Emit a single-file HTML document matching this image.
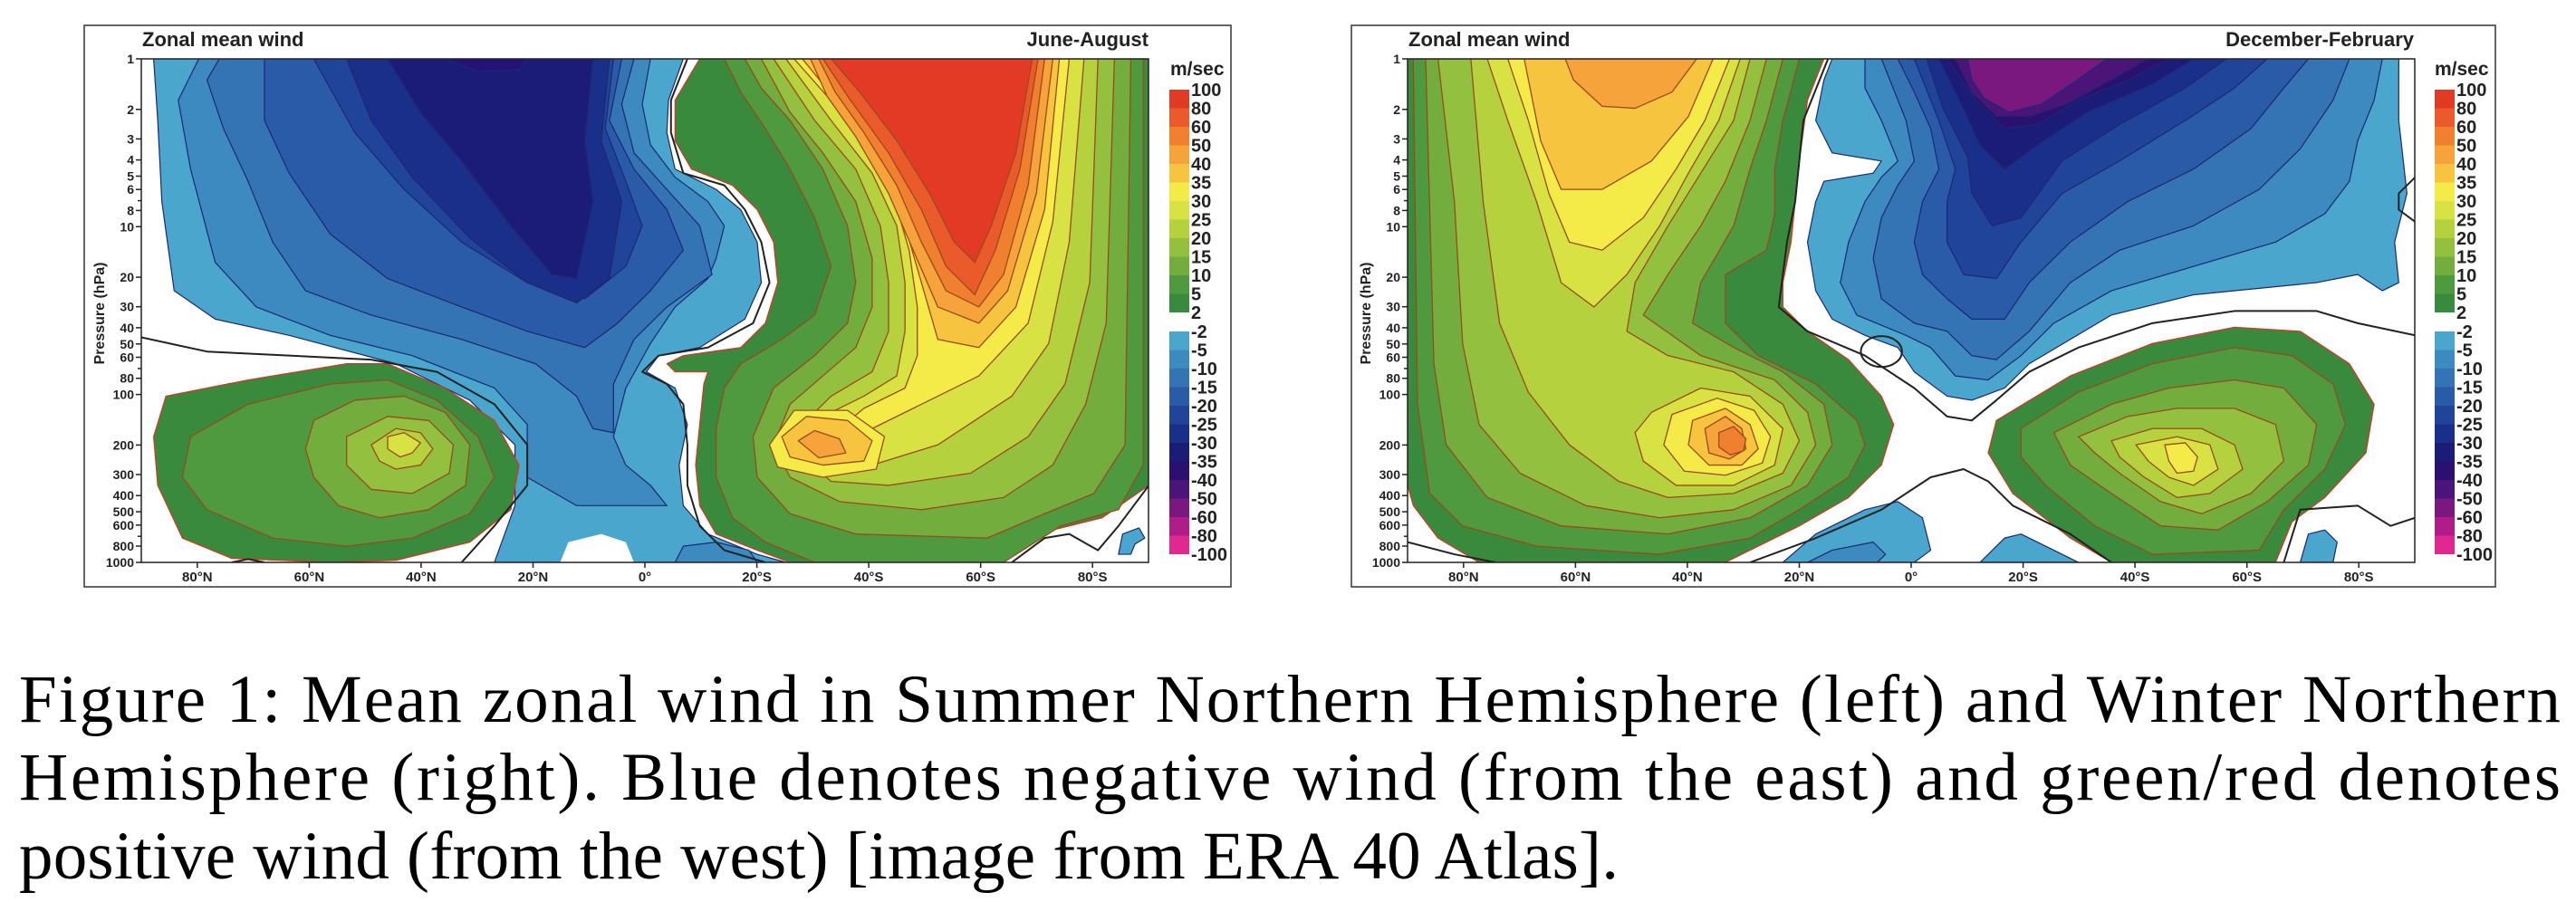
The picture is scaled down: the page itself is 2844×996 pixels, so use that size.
<!DOCTYPE html>
<html><head><meta charset="utf-8"><style>
html,body{margin:0;padding:0;background:#fff;width:2844px;height:996px;overflow:hidden}
svg{display:block}
.p polygon,.p polyline,.p ellipse{vector-effect:non-scaling-stroke;stroke-linejoin:round}
.pos{stroke:#9a4a1c;stroke-width:1.3}
.neg{stroke:#1c2870;stroke-width:1.2}
.z{fill:none;stroke:#222;stroke-width:2}
.t{font-family:"Liberation Sans",sans-serif;font-weight:bold;fill:#222}
.cap{font-family:"Liberation Serif",serif;font-size:75px;fill:#000}
</style></head><body>
<svg width="2844" height="996" viewBox="0 0 2844 996" xmlns="http://www.w3.org/2000/svg">
<defs>
<clipPath id="cl"><rect x="170" y="148" width="1227" height="1242"/></clipPath>
<clipPath id="cr"><rect x="143" y="148" width="1227" height="1242"/></clipPath>
</defs>

<rect x="93" y="28" width="1266" height="620" fill="#fff" stroke="#333" stroke-width="1.5"/>
<rect x="1492" y="28" width="1263" height="620" fill="#fff" stroke="#333" stroke-width="1.5"/>

<!-- LEFT PANEL (JJA) -->
<g class="p" transform="matrix(0.9066 0 0 0.4477 1.9 -1.3)" clip-path="url(#cl)">
<polygon class="neg" fill="#4aa6cc" points="185,148 830,148 812,250 810,330 820,420 870,470 900,520 920,600 925,700 905,790 850,860 800,880 785,920 820,960 835,1050 825,1150 830,1250 860,1320 920,1370 955,1390 600,1390 625,1250 625,1100 570,990 480,900 350,830 260,790 210,720 195,500 190,300"/>
<polygon fill="#fff" stroke="none" points="680,1390 690,1340 730,1320 760,1340 770,1390"/>
<polygon class="neg" fill="#3d8ac0" points="240,148 790,148 780,260 790,360 820,440 860,500 880,560 870,640 860,690 820,760 790,850 760,960 745,1080 760,1150 790,1200 810,1250 700,1250 640,1180 640,1050 600,960 500,880 400,830 310,760 260,650 230,420 215,250"/>
<polygon class="neg" fill="#3d8ac0" points="820,1390 830,1350 870,1340 910,1360 920,1390"/>
<polygon class="neg" fill="#3473b4" points="265,148 770,148 755,260 770,380 810,470 850,560 865,680 810,760 770,840 745,950 745,1070 720,1060 700,980 650,900 560,840 450,780 370,720 330,600 300,450 270,320 250,200"/>
<polygon class="neg" fill="#2a5ba8" points="320,148 755,148 740,300 770,420 810,520 830,620 790,720 750,800 710,860 640,820 560,760 470,690 400,580 350,430 320,300"/>
<polygon class="neg" fill="#20449a" points="380,148 745,148 735,320 760,450 780,560 760,660 710,740 640,700 560,600 490,470 430,330"/>
<polygon class="neg" fill="#1a2f8a" points="420,148 740,148 730,350 755,500 740,690 700,750 640,700 570,590 500,440 450,300"/>
<polygon class="neg" fill="#1a1c78" points="470,148 720,148 710,350 720,500 700,690 670,680 620,560 560,400 510,280"/>
<polygon class="neg" fill="#24127a" points="540,148 640,148 630,175 580,180"/>
<polygon class="neg" fill="#4aa6cc" points="1360,1370 1365,1320 1385,1305 1392,1330 1380,1345 1375,1370"/>
<!-- positive right -->
<polygon stroke="#e03020" stroke-width="1.2" fill="#3a8a3e" points="850,148 1397,148 1397,1200 1340,1280 1260,1320 1220,1390 960,1390 920,1360 870,1320 850,1250 845,1150 850,1050 855,950 860,920 820,920 810,900 830,880 900,860 930,800 945,700 940,600 920,520 890,460 840,420 820,350 820,250"/>
<polygon class="pos" fill="#4f9a3e" points="880,148 1390,148 1390,1150 1360,1260 1290,1300 1220,1390 990,1390 930,1340 890,1280 870,1180 870,1060 880,960 900,900 950,840 990,780 1010,660 990,540 960,420 930,320 900,230"/>
<polygon class="pos" fill="#72ad3e" points="905,148 1375,148 1368,1100 1330,1220 1270,1270 1200,1330 1040,1320 960,1270 920,1180 915,1080 940,960 990,880 1030,800 1040,700 1030,560 1000,420 960,300 925,220"/>
<polygon class="pos" fill="#93c03e" points="925,148 1355,148 1345,800 1320,1000 1280,1150 1220,1230 1120,1260 1020,1240 960,1180 940,1100 960,1000 1000,930 1040,860 1060,760 1060,640 1040,500 1000,380 960,280"/>
<polygon class="pos" fill="#b5d13e" points="940,148 1335,148 1325,700 1295,950 1250,1080 1180,1170 1080,1200 1010,1190 975,1130 975,1050 1010,980 1060,920 1080,820 1080,700 1070,560 1040,420 990,300"/>
<polygon class="pos" fill="#d8e243" points="955,148 1318,148 1300,600 1275,850 1230,980 1140,1100 1060,1150 1010,1160 990,1100 1000,1030 1050,980 1090,930 1100,820 1100,700 1090,560 1060,430 1010,300"/>
<polygon class="pos" fill="#f4ea48" points="965,148 1300,148 1280,550 1250,800 1190,930 1110,1010 1060,1060 1020,1060 1050,1010 1100,960 1115,880 1115,760 1105,620 1085,480 1040,320"/>
<polygon class="pos" fill="#f4ea48" points="935,1100 965,1015 1030,1015 1075,1080 1065,1160 1000,1180 945,1155"/>
<polygon class="pos" fill="#f7c440" points="975,148 1288,148 1270,520 1235,760 1190,860 1140,840 1120,700 1100,560 1070,420 1020,260"/>
<polygon class="pos" fill="#f7c440" points="950,1080 980,1030 1030,1040 1060,1090 1050,1140 1000,1150 960,1130"/>
<polygon class="pos" fill="#f5a33a" points="985,148 1280,148 1260,480 1225,720 1190,800 1140,760 1110,620 1080,480 1040,340 1005,240"/>
<polygon class="pos" fill="#f5a33a" points="970,1090 990,1065 1020,1085 1028,1120 995,1132"/>
<polygon class="pos" fill="#f08030" points="995,148 1270,148 1250,460 1220,680 1190,760 1150,720 1120,600 1090,460 1050,330 1015,230"/>
<polygon class="pos" fill="#ea5a2a" points="1000,148 1262,148 1240,420 1210,620 1185,730 1150,660 1120,520 1080,380 1030,240"/>
<polygon class="pos" fill="#e33a25" points="1010,148 1255,148 1235,380 1205,560 1185,650 1160,600 1130,480 1090,350 1045,230"/>
<!-- left blob -->
<polygon stroke="#e03020" stroke-width="1.2" fill="#3a8a3e" points="200,980 300,940 420,900 470,900 540,960 600,1040 630,1150 620,1260 570,1340 480,1385 400,1390 280,1380 220,1330 190,1200 185,1080"/>
<polygon class="pos" fill="#4f9a3e" points="230,1080 300,1000 400,950 470,940 530,990 580,1080 600,1180 570,1270 500,1330 420,1350 330,1330 250,1260 220,1180"/>
<polygon class="pos" fill="#72ad3e" points="380,1040 430,990 490,980 540,1020 570,1100 565,1200 520,1260 460,1280 410,1250 380,1180 370,1110"/>
<polygon class="pos" fill="#93c03e" points="420,1080 470,1030 520,1040 550,1100 545,1170 500,1220 450,1210 420,1150"/>
<polygon class="pos" fill="#b5d13e" points="450,1100 480,1060 510,1070 525,1110 510,1150 480,1160 460,1140"/>
<polygon class="pos" fill="#d8e243" points="470,1080 490,1070 510,1095 500,1120 485,1130 470,1110"/>
<polyline class="z" points="170,835 250,870 350,880 450,890 530,920 600,1000 640,1100 640,1200 600,1300 560,1390"/>
<polyline class="z" points="835,148 815,250 815,330 830,430 880,460 905,520 925,600 935,700 915,800 860,860 800,880 780,920 810,950 830,1000 835,1100 835,1200 850,1300 880,1360 930,1390"/>
<polyline class="z" points="1230,1390 1270,1330 1300,1320 1335,1360 1360,1300 1397,1200"/>
<polyline class="z" points="280,1390 300,1382 320,1390"/>
</g>

<!-- RIGHT PANEL (DJF) -->
<g class="p" transform="matrix(0.9066 0 0 0.4477 1424.4 -1.3)" clip-path="url(#cr)">
<polygon stroke="#e03020" stroke-width="1.2" fill="#3a8a3e" points="143,148 650,148 630,250 620,400 615,500 610,600 600,700 600,760 630,820 680,890 720,980 735,1050 720,1150 680,1230 620,1300 560,1360 530,1390 230,1390 180,1330 150,1250 143,1200"/>
<polygon class="pos" fill="#4f9a3e" points="150,148 620,148 600,300 590,420 590,530 580,620 530,680 530,800 570,880 640,950 690,1040 700,1100 680,1180 620,1260 560,1330 450,1370 300,1350 210,1300 170,1220 155,1000"/>
<polygon class="pos" fill="#72ad3e" points="165,148 600,148 580,300 560,420 540,560 500,700 490,800 540,860 600,920 650,1000 660,1100 630,1200 560,1280 460,1320 330,1300 240,1230 190,1100 175,900"/>
<polygon class="pos" fill="#93c03e" points="180,148 580,148 560,300 530,450 500,560 460,680 430,780 500,880 590,940 630,1020 640,1100 610,1200 540,1260 450,1280 360,1250 280,1170 230,1050 210,850 200,500"/>
<polygon class="pos" fill="#b5d13e" points="220,148 560,148 540,300 500,430 460,560 420,700 410,820 460,880 540,920 600,1000 620,1090 600,1170 540,1220 460,1230 400,1190 340,1100 290,970 255,800 235,500"/>
<polygon class="pos" fill="#d8e243" points="240,148 548,148 522,300 485,430 450,560 410,680 370,760 330,700 300,500 265,300"/>
<polygon class="pos" fill="#d8e243" points="440,1020 500,960 560,980 600,1060 590,1150 540,1200 470,1200 430,1140 420,1070"/>
<polygon class="pos" fill="#f4ea48" points="265,148 535,148 505,300 470,420 430,540 380,620 340,600 315,480 290,300"/>
<polygon class="pos" fill="#f4ea48" points="465,1025 520,985 565,1015 585,1080 575,1145 530,1175 480,1165 455,1100"/>
<polygon class="pos" fill="#f7c440" points="285,148 515,148 485,290 440,400 380,470 330,470 305,350"/>
<polygon class="pos" fill="#f7c440" points="490,1040 530,1010 560,1050 570,1110 550,1150 510,1150 485,1100"/>
<polygon class="pos" fill="#f5a33a" points="335,148 495,148 465,230 420,270 380,265 345,200"/>
<polygon class="pos" fill="#f5a33a" points="505,1060 530,1030 550,1060 555,1110 535,1135 510,1120"/>
<polygon class="pos" fill="#f08030" points="522,1070 540,1055 555,1085 552,1115 536,1125 522,1105"/>
<polygon stroke="#e03020" stroke-width="1.2" fill="#3a8a3e" points="860,1040 950,930 1050,850 1150,810 1230,820 1290,900 1320,1000 1310,1120 1260,1230 1220,1290 1200,1390 1000,1390 950,1330 880,1220 850,1120"/>
<polygon class="pos" fill="#4f9a3e" points="890,1060 960,970 1050,900 1150,860 1220,880 1270,950 1285,1050 1260,1160 1210,1260 1180,1360 1050,1370 980,1300 920,1200 890,1130"/>
<polygon class="pos" fill="#72ad3e" points="930,1070 1000,1000 1070,960 1150,940 1210,960 1250,1050 1240,1150 1190,1240 1130,1310 1060,1300 1000,1220 950,1150"/>
<polygon class="pos" fill="#93c03e" points="960,1080 1020,1030 1080,1010 1150,1010 1200,1050 1210,1140 1170,1220 1110,1270 1060,1240 1010,1170 980,1120"/>
<polygon class="pos" fill="#b5d13e" points="1000,1090 1050,1060 1110,1060 1150,1100 1160,1160 1120,1220 1080,1230 1040,1180 1010,1130"/>
<polygon class="pos" fill="#d8e243" points="1030,1100 1080,1080 1120,1100 1130,1160 1100,1200 1070,1180 1045,1140"/>
<polygon class="pos" fill="#f4ea48" points="1065,1100 1090,1095 1105,1130 1100,1165 1080,1170 1070,1140"/>
<polygon class="neg" fill="#4aa6cc" points="660,148 1350,148 1350,300 1360,480 1345,600 1350,700 1330,720 1300,680 1250,700 1100,730 1000,780 950,840 900,900 870,960 830,990 800,980 760,920 740,860 700,830 660,790 640,720 630,600 640,500 650,450 710,430 720,400 660,380 640,300 650,200"/>
<polygon class="neg" fill="#3d8ac0" points="700,148 1330,148 1320,250 1300,350 1290,450 1260,530 1200,600 1100,660 1000,720 930,800 890,880 850,940 810,930 780,860 750,830 690,780 670,700 680,600 700,500 720,440 740,400 720,300 700,220"/>
<polygon class="neg" fill="#3473b4" points="720,148 1290,148 1270,250 1230,370 1180,470 1100,560 1010,620 950,700 900,820 860,890 830,880 800,820 760,800 720,740 710,640 720,540 740,460 760,400 750,300"/>
<polygon class="neg" fill="#2a5ba8" points="740,148 1240,148 1210,220 1170,320 1100,420 1020,500 950,600 900,700 870,790 830,790 800,740 770,680 760,600 770,500 790,420 780,320 760,230"/>
<polygon class="neg" fill="#20449a" points="760,148 1190,148 1150,220 1090,300 1010,400 940,480 890,600 860,690 820,680 800,600 800,500 810,420 790,300"/>
<polygon class="neg" fill="#1a2f8a" points="775,148 1140,148 1090,220 1010,310 940,400 890,540 855,560 830,480 825,390 795,270"/>
<polygon class="neg" fill="#1a1c78" points="790,148 1100,148 1050,210 970,280 910,360 870,420 840,360 815,250"/>
<polygon class="neg" fill="#2a1070" points="800,148 1070,148 1020,200 960,250 910,310 870,320 835,250"/>
<polygon class="neg" fill="#4a1478" points="810,148 1045,148 1000,200 945,260 900,290 860,290 830,230"/>
<polygon class="neg" fill="#7a1880" points="825,148 995,148 955,205 915,260 875,280 845,245 830,200"/>
<polygon class="neg" fill="#4aa6cc" points="600,1390 640,1320 700,1260 740,1240 770,1280 780,1360 760,1390"/>
<polygon class="neg" fill="#3d8ac0" points="630,1390 660,1360 710,1340 725,1370 715,1390"/>
<polygon class="neg" fill="#4aa6cc" points="840,1390 870,1330 890,1320 930,1360 960,1390"/>
<polygon class="neg" fill="#4aa6cc" points="1230,1390 1240,1320 1260,1310 1275,1340 1270,1390"/>
<polyline class="z" points="655,148 625,300 615,500 605,600 595,760 630,820 700,880 760,960 800,1030 830,1040 860,990 900,920 960,860 1050,800 1150,770 1250,770 1300,800 1370,830"/>
<polyline class="z" points="560,1390 640,1330 720,1260 780,1180 820,1160 850,1190 880,1250 950,1320 1000,1390"/>
<ellipse class="z" cx="720" cy="870" rx="25" ry="38"/>
<polyline class="z" points="143,1340 200,1370 250,1390"/>
<polyline class="z" points="1210,1390 1230,1260 1300,1250 1340,1300 1370,1280"/>
<polyline class="z" points="1370,440 1350,480 1350,520 1370,550"/>
</g>

<rect x="156" y="65" width="1112" height="556" fill="none" stroke="#222" stroke-width="1.5"/>
<rect x="1554" y="65" width="1112" height="556" fill="none" stroke="#222" stroke-width="1.5"/>

<text class="t" x="157" y="51" font-size="22">Zonal mean wind</text>
<text class="t" x="1268" y="51" font-size="22" text-anchor="end">June-August</text>
<text class="t" x="1555" y="51" font-size="22">Zonal mean wind</text>
<text class="t" x="2665" y="51" font-size="22" text-anchor="end">December-February</text>
<text class="t" x="1292" y="83" font-size="21">m/sec</text>
<text class="t" x="2688" y="83" font-size="21">m/sec</text>

<g id="cbL">
<rect x="1291" y="99" width="22" height="20.5" fill="#e33a25"/>
<rect x="1291" y="119.5" width="22" height="20.5" fill="#ea5a2a"/>
<rect x="1291" y="140" width="22" height="20.5" fill="#f08030"/>
<rect x="1291" y="160.5" width="22" height="20.5" fill="#f5a33a"/>
<rect x="1291" y="181" width="22" height="20.5" fill="#f7c440"/>
<rect x="1291" y="201.5" width="22" height="20.5" fill="#f4ea48"/>
<rect x="1291" y="222" width="22" height="20.5" fill="#d8e243"/>
<rect x="1291" y="242.5" width="22" height="20.5" fill="#b5d13e"/>
<rect x="1291" y="263" width="22" height="20.5" fill="#93c03e"/>
<rect x="1291" y="283.5" width="22" height="20.5" fill="#72ad3e"/>
<rect x="1291" y="304" width="22" height="20.5" fill="#4f9a3e"/>
<rect x="1291" y="324.5" width="22" height="20.5" fill="#3a8a3e"/>
<rect x="1291" y="366" width="22" height="20.5" fill="#4aa6cc"/>
<rect x="1291" y="386.5" width="22" height="20.5" fill="#3d8ac0"/>
<rect x="1291" y="407" width="22" height="20.5" fill="#3473b4"/>
<rect x="1291" y="427.5" width="22" height="20.5" fill="#2a5ba8"/>
<rect x="1291" y="448" width="22" height="20.5" fill="#20449a"/>
<rect x="1291" y="468.5" width="22" height="20.5" fill="#1a2f8a"/>
<rect x="1291" y="489" width="22" height="20.5" fill="#1a1c78"/>
<rect x="1291" y="509.5" width="22" height="20.5" fill="#2a1070"/>
<rect x="1291" y="530" width="22" height="20.5" fill="#4a1478"/>
<rect x="1291" y="550.5" width="22" height="20.5" fill="#7a1880"/>
<rect x="1291" y="571" width="22" height="20.5" fill="#b01c88"/>
<rect x="1291" y="591.5" width="22" height="20.5" fill="#e02890"/>
<g class="t" font-size="20">
<text x="1315" y="106">100</text><text x="1315" y="126.5">80</text><text x="1315" y="147">60</text><text x="1315" y="167.5">50</text><text x="1315" y="188">40</text><text x="1315" y="208.5">35</text><text x="1315" y="229">30</text><text x="1315" y="249.5">25</text><text x="1315" y="270">20</text><text x="1315" y="290.5">15</text><text x="1315" y="311">10</text><text x="1315" y="331.5">5</text><text x="1315" y="352">2</text>
<text x="1315" y="373">-2</text><text x="1315" y="393.5">-5</text><text x="1315" y="414">-10</text><text x="1315" y="434.5">-15</text><text x="1315" y="455">-20</text><text x="1315" y="475.5">-25</text><text x="1315" y="496">-30</text><text x="1315" y="516.5">-35</text><text x="1315" y="537">-40</text><text x="1315" y="557.5">-50</text><text x="1315" y="578">-60</text><text x="1315" y="598.5">-80</text><text x="1315" y="619">-100</text>
</g>
</g>
<use href="#cbL" transform="translate(1397 0)"/>

<g id="yax">
<g stroke="#222" stroke-width="1.5">
<line x1="150" x2="156" y1="65" y2="65"/><line x1="150" x2="156" y1="120.8" y2="120.8"/><line x1="150" x2="156" y1="153.4" y2="153.4"/><line x1="150" x2="156" y1="176.6" y2="176.6"/><line x1="150" x2="156" y1="194.5" y2="194.5"/><line x1="150" x2="156" y1="209.2" y2="209.2"/><line x1="152" x2="156" y1="221.6" y2="221.6"/><line x1="150" x2="156" y1="232.4" y2="232.4"/><line x1="150" x2="156" y1="250.3" y2="250.3"/>
<line x1="150" x2="156" y1="306.1" y2="306.1"/><line x1="150" x2="156" y1="338.7" y2="338.7"/><line x1="150" x2="156" y1="361.9" y2="361.9"/><line x1="150" x2="156" y1="379.8" y2="379.8"/><line x1="150" x2="156" y1="394.5" y2="394.5"/><line x1="152" x2="156" y1="406.9" y2="406.9"/><line x1="150" x2="156" y1="417.7" y2="417.7"/><line x1="150" x2="156" y1="435.6" y2="435.6"/>
<line x1="150" x2="156" y1="491.4" y2="491.4"/><line x1="150" x2="156" y1="524.0" y2="524.0"/><line x1="150" x2="156" y1="547.2" y2="547.2"/><line x1="150" x2="156" y1="565.1" y2="565.1"/><line x1="150" x2="156" y1="579.8" y2="579.8"/><line x1="152" x2="156" y1="592.2" y2="592.2"/><line x1="150" x2="156" y1="603.0" y2="603.0"/><line x1="150" x2="156" y1="621" y2="621"/>
</g>
<g class="t" font-size="14" text-anchor="end">
<text x="148" y="70">1</text><text x="148" y="125.8">2</text><text x="148" y="158.4">3</text><text x="148" y="181.6">4</text><text x="148" y="199.5">5</text><text x="148" y="214.2">6</text><text x="148" y="237.4">8</text><text x="148" y="255.3">10</text>
<text x="148" y="311.1">20</text><text x="148" y="343.7">30</text><text x="148" y="366.9">40</text><text x="148" y="384.8">50</text><text x="148" y="399.5">60</text><text x="148" y="422.7">80</text><text x="148" y="440.6">100</text>
<text x="148" y="496.4">200</text><text x="148" y="529">300</text><text x="148" y="552.2">400</text><text x="148" y="570.1">500</text><text x="148" y="584.8">600</text><text x="148" y="608">800</text><text x="148" y="626">1000</text>
</g>
<text class="t" font-size="16" transform="translate(115 346) rotate(-90)" text-anchor="middle">Pressure (hPa)</text>
<g stroke="#222" stroke-width="1.5">
<line x1="217.8" x2="217.8" y1="621" y2="627"/><line x1="341.4" x2="341.4" y1="621" y2="627"/><line x1="464.9" x2="464.9" y1="621" y2="627"/><line x1="588.5" x2="588.5" y1="621" y2="627"/><line x1="712" x2="712" y1="621" y2="627"/><line x1="835.6" x2="835.6" y1="621" y2="627"/><line x1="959.1" x2="959.1" y1="621" y2="627"/><line x1="1082.7" x2="1082.7" y1="621" y2="627"/><line x1="1206.2" x2="1206.2" y1="621" y2="627"/>
</g>
<g class="t" font-size="15" text-anchor="middle">
<text x="217.8" y="642">80°N</text><text x="341.4" y="642">60°N</text><text x="464.9" y="642">40°N</text><text x="588.5" y="642">20°N</text><text x="712" y="642">0°</text><text x="835.6" y="642">20°S</text><text x="959.1" y="642">40°S</text><text x="1082.7" y="642">60°S</text><text x="1206.2" y="642">80°S</text>
</g>
</g>
<use href="#yax" transform="translate(1398 0)"/>

<text class="cap" x="21" y="797" textLength="2806" lengthAdjust="spacing">Figure 1: Mean zonal wind in Summer Northern Hemisphere (left) and Winter Northern</text>
<text class="cap" x="21" y="883" textLength="2806" lengthAdjust="spacing">Hemisphere (right). Blue denotes negative wind (from the east) and green/red denotes</text>
<text class="cap" x="21" y="970" textLength="1766" lengthAdjust="spacing">positive wind (from the west) [image from ERA 40 Atlas].</text>
</svg>
</body></html>
